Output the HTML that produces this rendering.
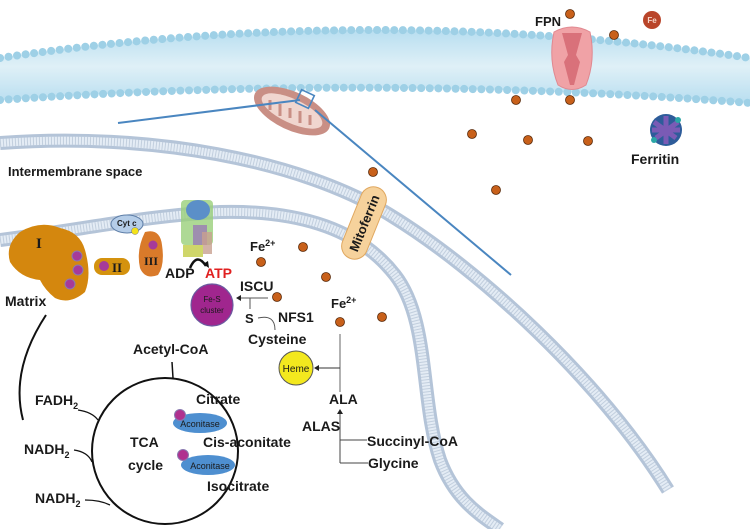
<!DOCTYPE html>
<html><head><meta charset="utf-8"><style>
html,body{margin:0;padding:0;background:#fff;}
svg{display:block;font-family:"Liberation Sans",sans-serif;font-weight:bold;}
text{fill:#1a1a1a;}
</style></head><body>
<svg width="750" height="529" viewBox="0 0 750 529" xmlns="http://www.w3.org/2000/svg">
<defs>
<linearGradient id="mem" x1="0" y1="0" x2="0" y2="1">
<stop offset="0" stop-color="#b8def0"/><stop offset="0.5" stop-color="#dff0f7"/><stop offset="1" stop-color="#b8def0"/>
</linearGradient>
</defs>
<!-- cell membrane -->
<path d="M0,58 Q375,2 750,58 L750,103 Q375,74 0,100 Z" fill="url(#mem)"/>
<path d="M0,58 Q375,2 750,58" fill="none" stroke="#9ed0e6" stroke-width="8" stroke-linecap="round" stroke-dasharray="0.1 8.5"/>
<path d="M0,100 Q375,74 750,103" fill="none" stroke="#9ed0e6" stroke-width="8" stroke-linecap="round" stroke-dasharray="0.1 8.5"/>
<!-- mito outer membrane -->
<path d="M0,143 C150,132 300,160 390,215 S 600,380 668,490" fill="none" stroke="#b4c4d8" stroke-width="14"/>
<path d="M0,143 C150,132 300,160 390,215 S 600,380 668,490" fill="none" stroke="#e4ecf5" stroke-width="8"/>
<path d="M0,143 C150,132 300,160 390,215 S 600,380 668,490" fill="none" stroke="#9fb2c8" stroke-width="8" stroke-dasharray="1 2" opacity="0.5"/>
<!-- mito inner membrane -->
<path d="M0,240 C80,230 150,215 220,212 C300,210 360,230 395,275 C430,320 420,400 440,460 C455,500 480,515 500,529" fill="none" stroke="#b4c4d8" stroke-width="14"/>
<path d="M0,240 C80,230 150,215 220,212 C300,210 360,230 395,275 C430,320 420,400 440,460 C455,500 480,515 500,529" fill="none" stroke="#e4ecf5" stroke-width="8"/>
<path d="M0,240 C80,230 150,215 220,212 C300,210 360,230 395,275 C430,320 420,400 440,460 C455,500 480,515 500,529" fill="none" stroke="#9fb2c8" stroke-width="8" stroke-dasharray="1 2" opacity="0.5"/>

<!-- small mitochondrion -->
<ellipse cx="292" cy="111" rx="41" ry="19" transform="rotate(25 292 111)" fill="#c98f85"/>
<ellipse cx="292" cy="111" rx="33" ry="12" transform="rotate(25 292 111)" fill="#f0d6cf"/>
<path d="M270,100 v10 M280,104 v12 M290,108 v10 M300,111 v12 M310,115 v10" stroke="#c98f85" stroke-width="3"/>
<!-- blue zoom lines -->
<line x1="118" y1="123" x2="300" y2="100" stroke="#4a86c0" stroke-width="2"/>
<rect x="298" y="92" width="14" height="14" fill="none" stroke="#4a86c0" stroke-width="1.6" transform="rotate(25 305 99)"/>
<line x1="315" y1="110" x2="511" y2="275" stroke="#4a86c0" stroke-width="2"/>

<!-- FPN -->
<path d="M554,32 Q572,22 590,32 Q596,60 586,85 Q572,94 558,85 Q548,60 554,32 Z" fill="#f0a2a6" stroke="#e08890"/>
<path d="M562,33 L582,33 L576,55 L580,62 L574,85 L570,85 L564,62 L568,55 Z" fill="#d9717a"/>
<text x="535" y="26" font-size="13">FPN</text>
<circle cx="652" cy="20" r="9" fill="#b9452a"/>
<text x="652" y="23" font-size="8" text-anchor="middle" style="fill:#f6d5c8">Fe</text>
<!-- Ferritin -->
<g transform="translate(666,130)">
<circle r="16" fill="#2e5c9a"/>
<path d="M-12,-8 L10,8 M-10,8 L12,-8 M-14,0 H14 M0,-14 V14" stroke="#7a5bb5" stroke-width="5"/>
<circle cx="-12" cy="10" r="3" fill="#2aa6a6"/><circle cx="12" cy="-10" r="3" fill="#2aa6a6"/>
</g>
<text x="631" y="164" font-size="14">Ferritin</text>

<!-- iron dots -->
<g fill="#c8601a" stroke="#5a2a0a" stroke-width="0.8">
<circle cx="570" cy="14" r="4.5"/><circle cx="614" cy="35" r="4.5"/>
<circle cx="516" cy="100" r="4.5"/><circle cx="570" cy="100" r="4.5"/>
<circle cx="472" cy="134" r="4.5"/><circle cx="528" cy="140" r="4.5"/><circle cx="588" cy="141" r="4.5"/>
<circle cx="496" cy="190" r="4.5"/><circle cx="373" cy="172" r="4.5"/>
<circle cx="261" cy="262" r="4.5"/><circle cx="303" cy="247" r="4.5"/><circle cx="326" cy="277" r="4.5"/>
<circle cx="277" cy="297" r="4.5"/><circle cx="340" cy="322" r="4.5"/><circle cx="382" cy="317" r="4.5"/>
</g>

<!-- Mitoferrin -->
<g transform="rotate(-68 364 223)">
<rect x="326" y="210" width="76" height="26" rx="13" fill="#f6d29c" stroke="#e0a860"/>
<text x="364" y="228" font-size="13" text-anchor="middle">Mitoferrin</text>
</g>

<text x="8" y="176" font-size="13">Intermembrane space</text>

<!-- Complex I -->
<path d="M20,232 Q40,220 60,228 Q80,232 85,250 Q92,275 85,292 Q70,305 55,298 Q45,290 40,280 Q20,278 10,262 Q5,245 20,232 Z" fill="#d4870e"/>
<text x="36" y="248" font-size="15" font-family="Liberation Serif">I</text>
<g fill="#a63a9a" stroke="#8a7ab0"><circle cx="77" cy="256" r="5"/><circle cx="78" cy="270" r="5"/><circle cx="70" cy="284" r="5"/></g>
<!-- Complex II -->
<rect x="94" y="258" width="36" height="17" rx="8" fill="#d4920e"/>
<circle cx="104" cy="266" r="5" fill="#a63a9a"/>
<text x="112" y="272" font-size="13" font-family="Liberation Serif">II</text>
<!-- Complex III -->
<path d="M145,232 Q160,228 162,245 Q165,265 158,275 Q145,280 140,268 Q136,250 145,232 Z" fill="#d97a2a"/>
<circle cx="153" cy="245" r="4.5" fill="#a63a9a"/>
<text x="144" y="265" font-size="12" font-family="Liberation Serif">III</text>
<!-- Cyt c -->
<ellipse cx="127" cy="224" rx="16" ry="9" fill="#b5cde8" stroke="#5f7fa8"/>
<text x="117" y="226" font-size="8">Cyt c</text>
<circle cx="135" cy="231" r="3.5" fill="#f3e21a" stroke="#777" stroke-width="0.5"/>
<!-- ATP synthase -->
<rect x="181" y="200" width="32" height="45" rx="4" fill="#9ad07a" opacity="0.8"/>
<ellipse cx="198" cy="210" rx="12" ry="10" fill="#5b8fc8"/>
<rect x="193" y="225" width="14" height="20" fill="#9a7ab5" opacity="0.8"/>
<rect x="202" y="232" width="10" height="22" fill="#c8a090" opacity="0.8"/>
<rect x="183" y="245" width="20" height="12" fill="#cfd66a"/>
<path d="M190,268 Q197,252 206,266" fill="none" stroke="#111" stroke-width="2.5"/>
<path d="M203,264 l6,4 l-1,-7 z" fill="#111"/>
<text x="165" y="278" font-size="14">ADP</text>
<text x="205" y="278" font-size="14" style="fill:#e02020">ATP</text>

<text x="5" y="306" font-size="14">Matrix</text>

<!-- Fe-S cluster -->
<circle cx="212" cy="305" r="21" fill="#a0268e" stroke="#6b5aa0" stroke-width="1.2"/>
<text x="212" y="302" font-size="8" text-anchor="middle" style="font-weight:normal">Fe-S</text>
<text x="212" y="313" font-size="8" text-anchor="middle" style="font-weight:normal">cluster</text>
<text x="240" y="291" font-size="14">ISCU</text>
<line x1="268" y1="298" x2="240" y2="298" stroke="#555" stroke-width="1"/>
<path d="M236,298 l5,-3 v6 z" fill="#222"/>
<line x1="250" y1="298" x2="250" y2="309" stroke="#555"/>
<text x="245" y="323" font-size="13">S</text>
<path d="M258,318 Q275,314 275,330" fill="none" stroke="#555"/>
<text x="278" y="322" font-size="14">NFS1</text>
<text x="248" y="344" font-size="14">Cysteine</text>
<text x="250" y="251" font-size="13">Fe<tspan font-size="9" dy="-5">2+</tspan></text>
<text x="331" y="308" font-size="13">Fe<tspan font-size="9" dy="-5">2+</tspan></text>

<!-- Heme -->
<circle cx="296" cy="368" r="17" fill="#f3e81e" stroke="#555"/>
<text x="296" y="372" font-size="10" text-anchor="middle" style="font-weight:normal">Heme</text>
<line x1="340" y1="334" x2="340" y2="392" stroke="#666"/>
<line x1="340" y1="368" x2="318" y2="368" stroke="#333"/>
<path d="M314,368 l5,-3 v6 z" fill="#222"/>
<text x="329" y="404" font-size="14">ALA</text>
<text x="302" y="431" font-size="14">ALAS</text>
<line x1="340" y1="463" x2="340" y2="413" stroke="#444"/>
<path d="M340,409 l-3,5 h6 z" fill="#222"/>
<line x1="340" y1="440" x2="367" y2="440" stroke="#444"/>
<line x1="340" y1="463" x2="368" y2="463" stroke="#444"/>
<text x="367" y="446" font-size="14">Succinyl-CoA</text>
<text x="368" y="468" font-size="14">Glycine</text>

<!-- left arc -->
<path d="M46,315 Q10,370 23,420" fill="none" stroke="#111" stroke-width="2"/>

<!-- TCA cycle -->
<circle cx="165" cy="451" r="73" fill="none" stroke="#111" stroke-width="2"/>
<line x1="172" y1="362" x2="173" y2="378" stroke="#111" stroke-width="1.5"/>
<text x="133" y="354" font-size="14">Acetyl-CoA</text>
<text x="196" y="404" font-size="14">Citrate</text>
<text x="203" y="447" font-size="14">Cis-aconitate</text>
<text x="207" y="491" font-size="14">Isocitrate</text>
<text x="130" y="447" font-size="14">TCA</text>
<text x="128" y="470" font-size="14">cycle</text>
<ellipse cx="200" cy="423" rx="27" ry="10" fill="#4e8fd0"/>
<circle cx="180" cy="415" r="5.5" fill="#b0318f" stroke="#8a7ab0"/>
<text x="200" y="427" font-size="9" text-anchor="middle" style="font-weight:normal">Aconitase</text>
<ellipse cx="208" cy="465" rx="27" ry="10" fill="#4e8fd0"/>
<circle cx="183" cy="455" r="5.5" fill="#b0318f" stroke="#8a7ab0"/>
<text x="210" y="469" font-size="9" text-anchor="middle" style="font-weight:normal">Aconitase</text>

<text x="35" y="405" font-size="14">FADH<tspan font-size="9" dy="4">2</tspan></text>
<path d="M78,410 Q92,412 98,420" fill="none" stroke="#111" stroke-width="1.3"/>
<text x="24" y="454" font-size="14">NADH<tspan font-size="9" dy="4">2</tspan></text>
<path d="M74,450 Q88,452 92,462" fill="none" stroke="#111" stroke-width="1.3"/>
<text x="35" y="503" font-size="14">NADH<tspan font-size="9" dy="4">2</tspan></text>
<path d="M85,500 Q100,500 110,505" fill="none" stroke="#111" stroke-width="1.3"/>
</svg>
</body></html>
